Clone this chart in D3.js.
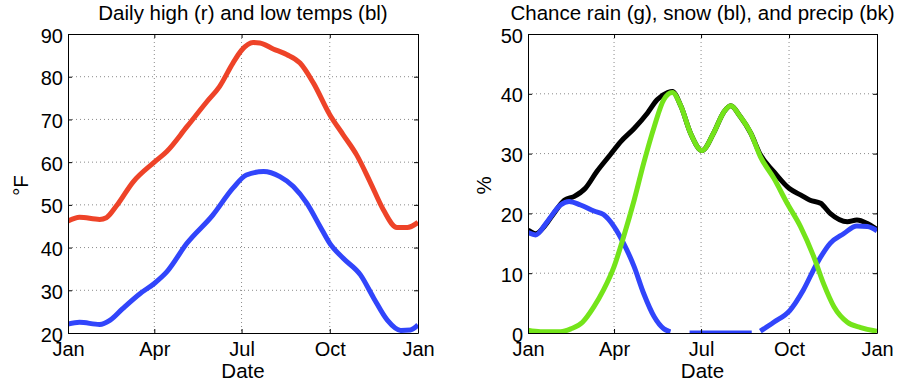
<!DOCTYPE html>
<html>
<head>
<meta charset="utf-8">
<script src="https://cdn.jsdelivr.net/npm/d3@7"></script>
<style>
  body { margin: 0; background: #fff; }
  svg { font-family: "Liberation Sans", Arial, Helvetica, sans-serif; }
  .grid line { stroke: #8a8a8a; stroke-width: 1; stroke-dasharray: 1,3; }
</style>
</head>
<body>
<svg id="chart" width="908" height="392"></svg>
<script>
// month ticks (day of year)
const monthTicks = [0, 90, 181, 273, 365];
const monthLabels = ['Jan', 'Apr', 'Jul', 'Oct', 'Jan'];

// daily high / low temps
const hiDays = [0, 12, 33, 40, 50, 68, 90, 103, 124, 145, 158, 172, 181, 193, 200, 214, 228, 242, 256, 273, 287, 301, 315, 329, 343, 354, 365];
const hiTemps = [46.2, 47.1, 46.6, 47.0, 49.6, 55.4, 60, 62.5, 68.3, 74.2, 77.7, 83.2, 86.2, 88, 87.9, 86.5, 85.2, 83.2, 78.5, 71.1, 66.4, 61.7, 55.4, 48.8, 44.7, 44.7, 45.9];
const loDays = [0, 12, 33, 44, 57, 75, 90, 103, 124, 151, 172, 186, 204, 221, 235, 249, 263, 273, 287, 305, 319, 333, 347, 357, 365];
const loTemps = [22.1, 22.5, 22, 23, 25.7, 29.2, 31.6, 34.3, 41, 47.6, 53.9, 57, 57.8, 56.6, 54.3, 50.4, 44.9, 41, 37.5, 33.6, 28.1, 23, 20.6, 20.7, 21.9];

// chance of precip, rain, snow (%)
const precipDays = [0, 8, 17, 27, 38, 48, 60, 72, 86, 97, 111, 125, 135, 146, 151, 160, 170, 182, 194, 205, 212, 222, 233, 243, 257, 273, 285, 295, 306, 316, 334, 344, 355, 365];
const precip = [17.2, 16.6, 17.8, 20, 22.2, 22.8, 24.2, 27, 29.8, 32, 34.2, 36.8, 39, 40.2, 40.4, 37.9, 33.4, 30.5, 33.4, 37, 38, 36.2, 33.4, 29.8, 27, 24.2, 23.1, 22.2, 21.7, 20, 18.6, 18.9, 18.3, 17.3];
const rainDays = [0, 13, 34, 45, 57, 69, 79, 90, 100, 111, 121, 132, 142, 151, 160, 170, 182, 194, 205, 212, 222, 233, 243, 257, 271, 285, 299, 309, 320, 334, 348, 365];
const rain = [0.45, 0.2, 0.2, 0.7, 1.8, 4.4, 7.2, 11.1, 16.1, 22.2, 28.4, 34.5, 39, 40.2, 37.9, 33.4, 30.5, 33.4, 37, 38, 36.2, 33.4, 29.5, 25.9, 21.7, 17.8, 12.7, 8.3, 4.4, 1.8, 0.9, 0.3];
const snowDays = [0, 8, 20, 34, 43, 55, 69, 79, 90, 100, 111, 121, 132, 142, 149, 150, 169, 234, 235, 243, 257, 274, 288, 302, 316, 330, 344, 355, 365];
const snow = [16.8, 16.4, 18.6, 21.4, 22, 21.4, 20.4, 19.8, 17.8, 15, 11.1, 6.6, 2.7, 0.7, 0.2, null, 0, 0, null, 0.3, 1.8, 3.8, 7.2, 11.6, 15, 16.6, 17.9, 17.8, 17.1];

const svg = d3.select('#chart');

function zip(xs, ys) {
    return xs.map((x, i) => ({ x: x, y: ys[i] }));
}

function drawPanel(opts) {
    const left = opts.left, top = 34, width = opts.width, height = 299;
    const g = svg.append('g').attr('transform', `translate(${left},${top})`);

    const x = d3.scaleLinear().domain([0, 365]).range([0, width]);
    const y = d3.scaleLinear().domain(opts.yDomain).range([height, 0]);

    // dotted grid
    const grid = g.append('g').attr('class', 'grid');
    grid.selectAll('.vg')
        .data(monthTicks.slice(1, -1))
        .enter().append('line')
        .attr('x1', d => x(d)).attr('x2', d => x(d))
        .attr('y1', 0).attr('y2', height);
    grid.selectAll('.hg')
        .data(opts.yTicks.slice(1, -1))
        .enter().append('line')
        .attr('x1', 0).attr('x2', width)
        .attr('y1', d => y(d)).attr('y2', d => y(d));

    // clip lines to plot box
    const clipId = 'clip-' + opts.id;
    g.append('clipPath').attr('id', clipId)
        .append('rect').attr('width', width).attr('height', height);

    const line = d3.line()
        .defined(d => d.y != null)
        .x(d => x(d.x))
        .y(d => y(d.y))
        .curve(d3.curveMonotoneX);

    const lines = g.append('g').attr('clip-path', `url(#${clipId})`);
    opts.series.forEach(s => {
        lines.append('path')
            .datum(zip(s.days, s.values))
            .attr('d', line)
            .attr('fill', 'none')
            .attr('stroke', s.color)
            .attr('stroke-width', 5)
            .attr('stroke-linejoin', 'round');
    });

    // axes, ticks pointing inward
    const xAxis = g.append('g')
        .attr('transform', `translate(0,${height})`)
        .call(d3.axisBottom(x).tickValues(monthTicks)
            .tickFormat((d, i) => monthLabels[i])
            .tickSizeInner(-4).tickSizeOuter(0).tickPadding(9));
    const yAxis = g.append('g')
        .call(d3.axisLeft(y).tickValues(opts.yTicks)
            .tickSizeInner(-4).tickSizeOuter(0).tickPadding(5));
    g.append('g')
        .call(d3.axisTop(x).tickValues(monthTicks).tickFormat('')
            .tickSizeInner(-4).tickSizeOuter(0));
    g.append('g')
        .attr('transform', `translate(${width},0)`)
        .call(d3.axisRight(y).tickValues(opts.yTicks).tickFormat('')
            .tickSizeInner(-4).tickSizeOuter(0));

    g.selectAll('.domain, .tick line').attr('stroke', '#000');
    g.selectAll('.tick text')
        .attr('fill', '#000')
        .style('font-size', '20px');
    yAxis.selectAll('.tick text').attr('dy', '0.4em');

    // labels
    g.append('text')
        .attr('x', width / 2).attr('y', -14.5)
        .attr('text-anchor', 'middle')
        .style('font-size', '20.5px')
        .text(opts.title);
    g.append('text')
        .attr('x', width / 2).attr('y', height + 45)
        .attr('text-anchor', 'middle')
        .style('font-size', '20.5px')
        .text('Date');
    g.append('text')
        .attr('transform', `translate(${opts.yLabelX},${height / 2 + 2}) rotate(-90)`)
        .attr('text-anchor', 'middle')
        .style('font-size', '20.5px')
        .text(opts.yLabel);
}

drawPanel({
    id: 'temps',
    left: 68, width: 350,
    yDomain: [20, 90],
    yTicks: [20, 30, 40, 50, 60, 70, 80, 90],
    title: 'Daily high (r) and low temps (bl)',
    yLabel: '°F', yLabelX: -40,
    series: [
        { days: hiDays, values: hiTemps, color: '#ee4328' },
        { days: loDays, values: loTemps, color: '#3145fb' }
    ]
});

drawPanel({
    id: 'precip',
    left: 528, width: 349,
    yDomain: [0, 50],
    yTicks: [0, 10, 20, 30, 40, 50],
    title: 'Chance rain (g), snow (bl), and precip (bk)',
    yLabel: '%', yLabelX: -37,
    series: [
        { days: precipDays, values: precip, color: '#000000' },
        { days: snowDays, values: snow, color: '#3145fb' },
        { days: rainDays, values: rain, color: '#74e41a' }
    ]
});
</script>
</body>
</html>
